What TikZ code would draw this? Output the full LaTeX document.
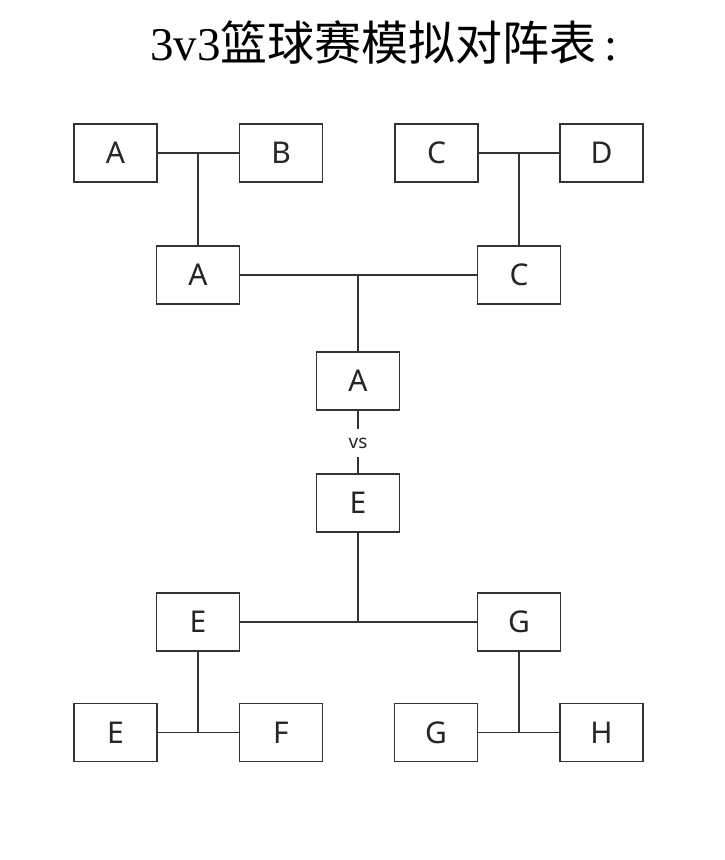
\documentclass[tikz,border=0pt]{standalone}
\usepackage{fontspec}
\setmainfont{Noto Sans}
\newfontfamily\cjkfont{Noto Sans CJK SC}
\newfontfamily\serifdigits{Liberation Serif}
\definecolor{linegray}{HTML}{333333}
\begin{document}
\begin{tikzpicture}[x=1pt,y=-1pt,
  teambox/.style={draw=linegray, line width=1.8pt, minimum width=83pt, minimum height=58pt, inner sep=0pt, font=\fontsize{30}{32}\selectfont, text=black!85},
  link/.style={draw=linegray, line width=1.6pt},
  vslabel/.style={inner sep=0pt, minimum height=28pt, font=\fontsize{19}{20}\selectfont, text=black!85}]
\useasboundingbox[fill=white] (0,0) rectangle (724,860);
\node[font=\fontsize{47}{50}\selectfont] (title) at (384,42) {\serifdigits 3v3\cjkfont 篮球赛模拟对阵表\hspace{8pt}\serifdigits :};
% top half
\node[teambox] (a1) at (115.5,153) {A};
\node[teambox] (b1) at (281,153) {B};
\node[teambox] (c1) at (436.5,153) {C};
\node[teambox] (d1) at (601.5,153) {D};
\node[teambox] (a2) at (198,275) {A};
\node[teambox] (c2) at (519,275) {C};
\node[teambox] (a3) at (358,381) {A};
\node[vslabel] (vs) at (358,443) {vs};
\node[teambox] (e3) at (358,503) {E};
% bottom half
\node[teambox] (e2) at (198,622) {E};
\node[teambox] (g2) at (519,622) {G};
\node[teambox] (e1) at (115.5,732.5) {E};
\node[teambox] (f1) at (281,732.5) {F};
\node[teambox] (g1) at (436,732.5) {G};
\node[teambox] (h1) at (601.5,732.5) {H};
% junctions
\coordinate (jab) at (a2.north |- a1.east);
\coordinate (jcd) at (c2.north |- c1.east);
\coordinate (jac) at (a3.north |- a2.east);
\coordinate (jeg) at (e3.south |- e2.east);
\coordinate (jef) at (e2.south |- e1.east);
\coordinate (jgh) at (g2.south |- g1.east);
% connectors
\draw[link] (a1.east) -- (b1.west);
\draw[link] (jab) -- (a2.north);
\draw[link] (c1.east) -- (d1.west);
\draw[link] (jcd) -- (c2.north);
\draw[link] (a2.east) -- (c2.west);
\draw[link] (jac) -- (a3.north);
\draw[link] (a3.south) -- (vs.north);
\draw[link] (vs.south) -- (e3.north);
\draw[link] (e3.south) -- (jeg);
\draw[link] (e2.east) -- (g2.west);
\draw[link] (e2.south) -- (jef);
\draw[link] (e1.east) -- (f1.west);
\draw[link] (g2.south) -- (jgh);
\draw[link] (g1.east) -- (h1.west);
\end{tikzpicture}
\end{document}
